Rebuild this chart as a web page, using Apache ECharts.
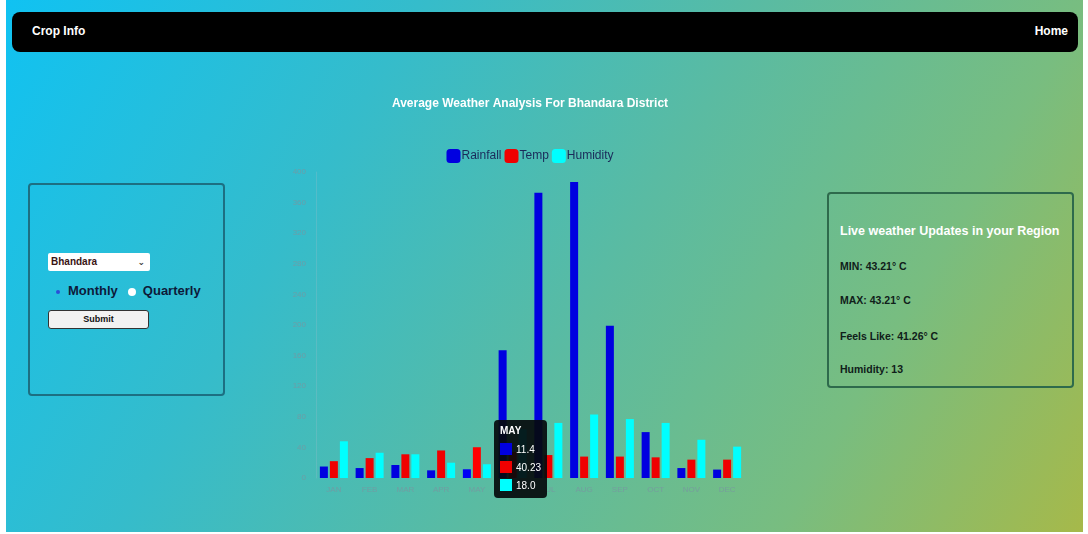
<!DOCTYPE html>
<html>
<head>
<meta charset="utf-8">
<title>Crop Info</title>
<script src="https://cdn.jsdelivr.net/npm/echarts@6/dist/echarts.min.js"></script>
<style>
  html, body { margin: 0; padding: 0; width: 1088px; height: 534px; background: #ffffff; overflow: hidden; }
  body { font-family: "Comic Sans MS", "Liberation Sans", "DejaVu Sans", sans-serif; }
  .page {
    position: absolute; left: 6px; top: 0; width: 1077px; height: 532px;
    background: linear-gradient(120deg, #10c2f2 0%, #35bccb 30%, #5abba2 55%, #78bd80 78%, #a6b94a 100%);
  }
  .nav {
    position: absolute; left: 6px; top: 12px; width: 1066px; height: 40px;
    background: #000; border-radius: 8px; color: #fff; font-weight: bold; font-size: 12px;
  }
  .nav .brand { position: absolute; left: 20px; top: 12px; }
  .nav .home { position: absolute; right: 10px; top: 12px; }
  .panel { position: absolute; box-sizing: border-box; border-radius: 4px; }
  .left { left: 22px; top: 183px; width: 197px; height: 213px; border: 2px solid #1d6f82; }
  .right { left: 821px; top: 192px; width: 247px; height: 196px; border: 2px solid #2e6a4c; }
  .select {
    position: absolute; left: 18px; top: 68px; width: 102px; height: 18px; background: #fff;
    border-radius: 2px; font-size: 10px; font-weight: bold; color: #3a1414; line-height: 18px;
    box-sizing: border-box; padding-left: 3px;
  }
  .select .arrow { position: absolute; right: 5px; top: 0; font-size: 9px; color: #333; }
  .radios { position: absolute; left: 24px; top: 98px; font-size: 13px; font-weight: bold; color: #0d1a3a; white-space: nowrap; }
  .dot { display: inline-block; width: 8px; height: 8px; border-radius: 50%; vertical-align: middle; margin-right: 7px; }
  .dot.on { background: #2a4fd8; width: 4px; height: 4px; margin-left: 2px; margin-right: 8px; }
  .dot.off { background: #fff; margin-left: 10px; }
  .submit {
    position: absolute; left: 18px; top: 125px; width: 101px; height: 19px; background: #f2f2f2;
    border: 1px solid #333; border-radius: 3px; box-sizing: border-box; text-align: center;
    font-size: 9px; font-weight: bold; line-height: 17px; color: #111;
  }
  .right .head { position: absolute; left: 11px; top: 30px; color: #fff; font-size: 12.5px; font-weight: bold; white-space: nowrap; }
  .right .row { position: absolute; left: 11px; color: #10201a; font-size: 10.5px; font-weight: bold; white-space: nowrap; }
  #chart { position: absolute; left: 229px; top: 60px; width: 590px; height: 450px; }
</style>
</head>
<body>
<div class="page">
  <div class="nav"><span class="brand">Crop Info</span><span class="home">Home</span></div>

  <div class="panel left">
    <div class="select">Bhandara<span class="arrow">&#8964;</span></div>
    <div class="radios"><span class="dot on"></span>Monthly<span class="dot off"></span>Quarterly</div>
    <div class="submit">Submit</div>
  </div>

  <div class="panel right">
    <div class="head">Live weather Updates in your Region</div>
    <div class="row" style="top:66px">MIN: 43.21° C</div>
    <div class="row" style="top:100px">MAX: 43.21° C</div>
    <div class="row" style="top:136px">Feels Like: 41.26° C</div>
    <div class="row" style="top:169px">Humidity: 13</div>
  </div>

  <div id="chart"></div>
</div>

<script>
// Monthly averages for Bhandara district
const months = ['JAN', 'FEB', 'MAR', 'APR', 'MAY', 'JUN', 'JUL', 'AUG', 'SEP', 'OCT', 'NOV', 'DEC'];
const rainfall = [15, 13, 17, 10, 11.4, 167, 373, 387, 199, 60, 13, 11];
const temperature = [22, 26, 31, 36, 40.23, 34, 30, 28, 28, 27, 24, 24];
const humidity = [48, 33, 31, 20, 18.0, 64, 72, 83, 77, 72, 50, 41];
const yTicks = { min: 0, max: 400, interval: 40 };

const seriesNames = ['Rainfall', 'Temp', 'Humidity'];
const seriesColors = ['#0000e0', '#f00000', '#00ffff'];
const decimals = [1, 2, 1];

const chart = echarts.init(document.getElementById('chart'), null, { renderer: 'canvas' });

const labelColor = 'rgba(120,150,160,0.8)';

chart.setOption({
  animation: false,
  title: {
    text: 'Average Weather Analysis For Bhandara District',
    left: 'center',
    top: 33,
    textStyle: { color: '#ffffff', fontSize: 12, fontWeight: 'bold', fontFamily: '"Comic Sans MS", "Liberation Sans", sans-serif' }
  },
  legend: {
    top: 84,
    left: 'center',
    icon: 'roundRect',
    itemWidth: 14,
    itemHeight: 14,
    itemGap: 3,
    textStyle: { color: '#1a2a5a', fontSize: 12, padding: [0, 0, 0, -4], fontFamily: '"Comic Sans MS", "Liberation Sans", sans-serif' },
    data: seriesNames
  },
  grid: { left: 81, right: 80, top: 112, bottom: 32 },
  tooltip: {
    trigger: 'axis',
    triggerOn: 'none',
    alwaysShowContent: true,
    axisPointer: { type: 'none' },
    backgroundColor: 'rgba(5,10,12,0.92)',
    borderWidth: 0,
    padding: [4, 6],
    extraCssText: 'border-radius:4px;box-shadow:none;',
    position: [259, 360],
    formatter: function (params) {
      let html = '<div style="color:#fff;font:bold 10px Liberation Sans,sans-serif;line-height:13px;margin-bottom:3px">' + params[0].name + '</div>';
      params.forEach(function (p) {
        html += '<div style="display:flex;align-items:center;height:18px;color:#fff;font:10px Liberation Sans,sans-serif">' +
          '<span style="display:inline-block;width:12px;height:12px;background:' + p.color + ';margin-right:4px"></span>' +
          Number(p.value).toFixed(decimals[p.seriesIndex]) + '</div>';
      });
      return html;
    }
  },
  xAxis: {
    type: 'category',
    data: months,
    axisLine: { show: false },
    axisTick: { show: false },
    axisLabel: { color: labelColor, fontSize: 8, margin: 8 }
  },
  yAxis: {
    type: 'value',
    min: yTicks.min,
    max: yTicks.max,
    interval: yTicks.interval,
    axisLine: { show: true, lineStyle: { color: 'rgba(140,190,200,0.35)' } },
    splitLine: { show: false },
    axisLabel: { color: labelColor, fontSize: 8, margin: 10 }
  },
  series: [rainfall, temperature, humidity].map(function (values, i) {
    return {
      name: seriesNames[i],
      type: 'bar',
      data: values,
      barWidth: 8,
      barGap: '25%',
      itemStyle: { color: seriesColors[i] }
    };
  })
});

chart.dispatchAction({ type: 'showTip', seriesIndex: 0, dataIndex: 4 });
</script>
</body>
</html>
